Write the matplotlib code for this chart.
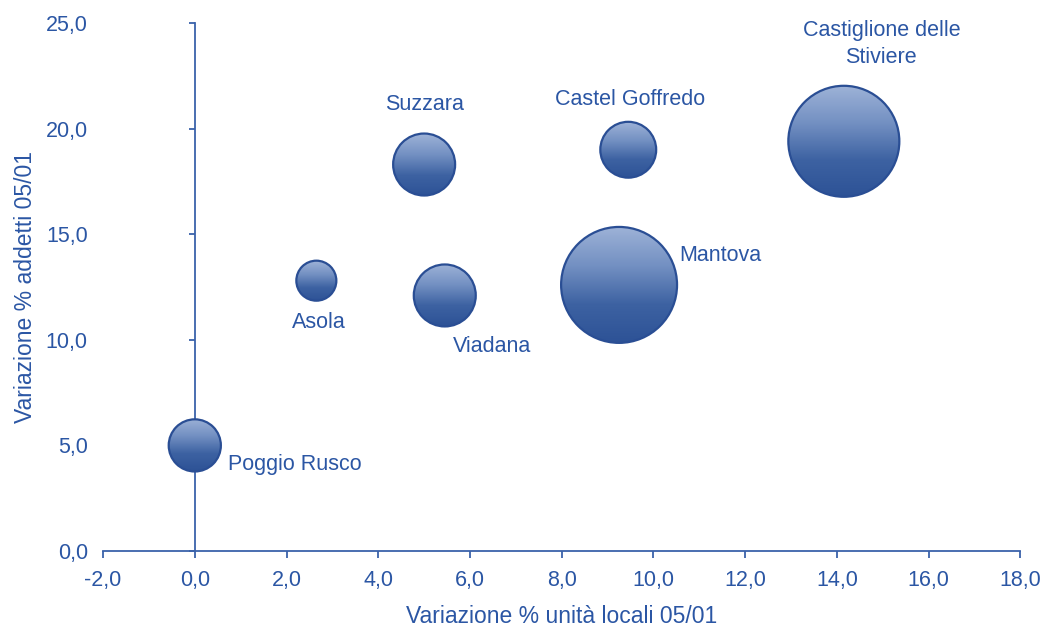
import numpy as np
import matplotlib
matplotlib.use('Agg')
import matplotlib.pyplot as plt
import matplotlib.transforms as mtransforms
from matplotlib.patches import Circle
from matplotlib.colors import LinearSegmentedColormap
from matplotlib.ticker import FuncFormatter, MultipleLocator

# dati
comuni = ['Poggio Rusco', 'Asola', 'Suzzara', 'Viadana', 'Castel Goffredo',
          'Mantova', 'Castiglione delle\nStiviere']
var_unita = [0.0, 2.65, 5.0, 5.45, 9.45, 9.25, 14.15]     # asse x
var_addetti = [5.0, 12.8, 18.3, 12.1, 19.0, 12.6, 19.4]   # asse y
peso = [6.8, 4.0, 9.6, 9.6, 7.8, 33.6, 30.8]              # area bolla

BLU = '#2B56A4'
LINEA = '#3A62AA'
plt.rcParams['font.family'] = ['Liberation Sans', 'DejaVu Sans']

fig = plt.figure(figsize=(10.42, 6.29), dpi=100)
ax = fig.add_axes([0.0989, 0.124, 0.8804, 0.8394])

cmap = LinearSegmentedColormap.from_list('bolla', ['#9DB2D7', '#7390C2', '#3D62A2', '#2D5296'])
grad = np.linspace(0, 1, 256).reshape(-1, 1)

# offset etichette (punti) e allineamento
etichette = [(24, -14, 'left'), (2, -30, 'center'), (0, 43, 'center'), (6, -37, 'left'),
             (1, 36, 'center'), (43, 21, 'left'), (27, 70, 'center')]

for nome, x, y, p, (dx, dy, ha) in zip(comuni, var_unita, var_addetti, peso, etichette):
    r = 0.1 * np.sqrt(p)  # raggio in pollici
    tr = fig.dpi_scale_trans + mtransforms.ScaledTranslation(x, y, ax.transData)
    circ = Circle((0, 0), r, transform=tr, facecolor='none', edgecolor='#2A4E94',
                  linewidth=1.6, zorder=6)
    im = ax.imshow(grad, cmap=cmap, extent=(-r, r, -r, r), transform=tr,
                   aspect='auto', origin='upper', zorder=5, interpolation='bilinear')
    ax.add_patch(circ)
    im.set_clip_path(circ)
    ax.annotate(nome, (x, y), xytext=(dx, dy), textcoords='offset points',
                ha=ha, va='center', fontsize=15.5, color=BLU, linespacing=1.35)

ax.set_xlim(-2, 18)
ax.set_ylim(0, 25)
ax.set_autoscale_on(False)

fmt = FuncFormatter(lambda v, pos: f'{v:.1f}'.replace('.', ','))
ax.xaxis.set_major_locator(MultipleLocator(2))
ax.yaxis.set_major_locator(MultipleLocator(5))
ax.xaxis.set_major_formatter(fmt)
ax.yaxis.set_major_formatter(fmt)

for s in ['top', 'right', 'left']:
    ax.spines[s].set_visible(False)
ax.spines['bottom'].set_color(LINEA)
ax.spines['bottom'].set_linewidth(1.3)
ax.tick_params(axis='x', direction='out', length=5, width=1.3, color=LINEA,
               labelcolor=BLU, labelsize=15.5, pad=9)
ax.tick_params(axis='y', length=0, labelcolor=BLU, labelsize=15.5, pad=11)

# asse verticale posizionato su x = 0
sec = ax.secondary_yaxis(0.1)
sec.spines['left'].set_color(LINEA)
sec.spines['left'].set_linewidth(1.3)
sec.yaxis.set_major_locator(MultipleLocator(5))
sec.tick_params(axis='y', direction='out', length=4, width=1.3, color=LINEA, labelleft=False)
sec.set_zorder(1)

ax.set_xlabel('Variazione % unità locali 05/01', fontsize=16.5, color=BLU, labelpad=10)
ax.set_ylabel('Variazione % addetti 05/01', fontsize=16.5, color=BLU, labelpad=6)

fig.savefig('out.png', dpi=100)
